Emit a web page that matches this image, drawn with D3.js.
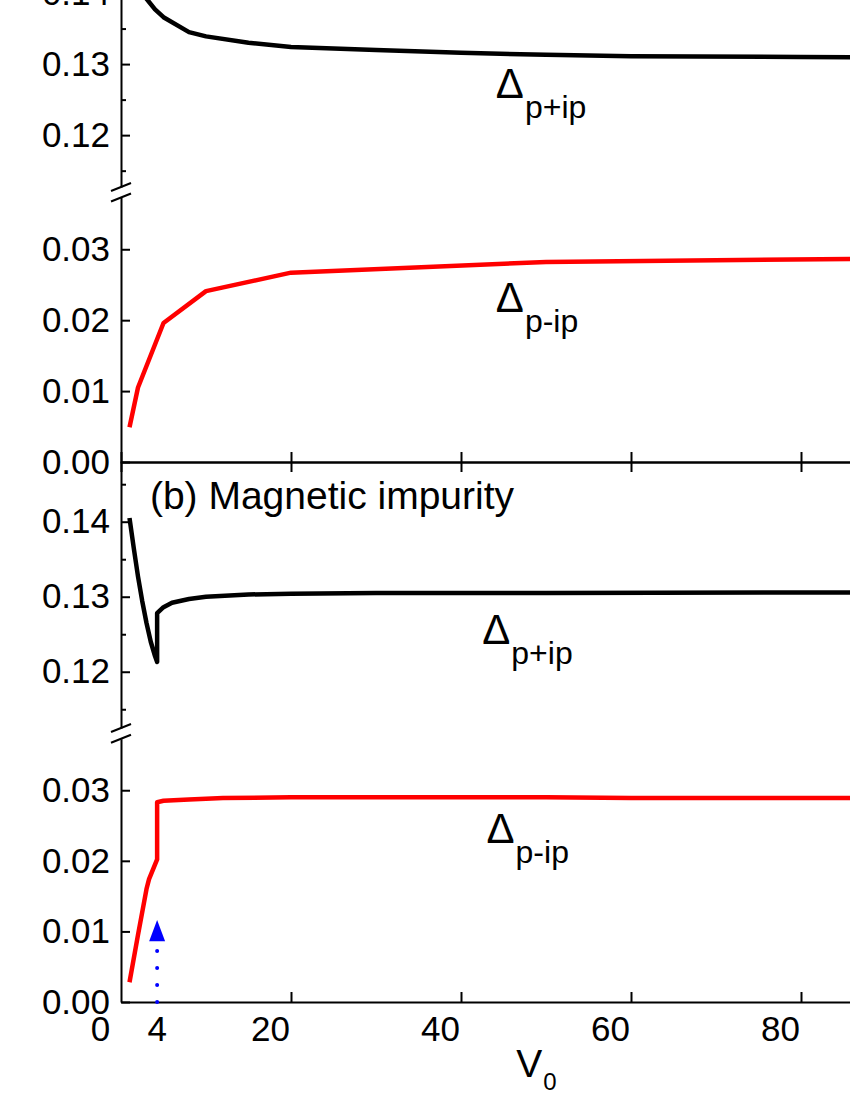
<!DOCTYPE html>
<html>
<head>
<meta charset="utf-8">
<script src="https://cdn.jsdelivr.net/npm/d3@7"></script>
<style>
  body { margin: 0; background: #fff; }
  svg { display: block; font-family: "Liberation Sans", Arial, sans-serif; }
</style>
</head>
<body>
<div id="viz"></div>
<script>
// panel (a): V0 values and gaps
var vA_plus  = [1, 2, 3, 4, 5, 8, 10, 15, 20, 30, 40, 50, 60, 80, 100];
var dA_plus  = [0.1480, 0.1425, 0.1392, 0.1377, 0.1366, 0.1345, 0.1339, 0.1330, 0.1324, 0.1320, 0.1316, 0.1313, 0.1311, 0.1310, 0.1309];
var vA_minus = [1, 2, 5, 10, 20, 50, 100];
var dA_minus = [0.0049, 0.0105, 0.0196, 0.0241, 0.0267, 0.0282, 0.0288];

// panel (b): magnetic impurity
var vB_plus  = [1, 1.5, 2, 2.5, 3, 3.5, 4, 4.25, 4.25, 5, 6, 8, 10, 15, 20, 30, 50, 100];
var dB_plus  = [0.1405, 0.1365, 0.1327, 0.1294, 0.1265, 0.1240, 0.1221, 0.1213, 0.1278, 0.1286, 0.1292, 0.1297, 0.1300, 0.1303, 0.1304, 0.1305, 0.1305, 0.1306];
var vB_minus = [1, 2, 3, 3.3, 4.25, 4.25, 5, 8, 12, 20, 40, 50, 60, 100];
var dB_minus = [0.0028, 0.0095, 0.0160, 0.0174, 0.0202, 0.0283, 0.0285, 0.0287, 0.0289, 0.0290, 0.0290, 0.0290, 0.0289, 0.0289];

// arrow marking the transition
var arrowV = 4.25, arrowFrom = 0, arrowTo = 0.0116;

var xTicks = [0, 20, 40, 60, 80, 100];
var xLabels = [0, 20, 40, 60, 80];
var yUpMajor = [0.12, 0.13, 0.14], yUpMinor = [0.115, 0.125, 0.135, 0.145];
var yLoMajor = [0, 0.01, 0.02, 0.03];

var width = 850, height = 1100;

var svg = d3.select('#viz').append('svg')
  .attr('width', width)
  .attr('height', height);

svg.append('rect').attr('width', width).attr('height', height).attr('fill', '#fff');

var x = d3.scaleLinear().domain([0, 100]).range([121, 971]);

// each panel has a broken y axis: upper part and lower part
var panels = [
  {
    yUp: d3.scaleLinear().domain([0.1127, 0.15]).range([187, -78]),
    yLo: d3.scaleLinear().domain([0, 0.0373]).range([462, 197.5]),
    plus: [vA_plus, dA_plus], minus: [vA_minus, dA_minus],
    labPlus: [44.1, 0.12521], labMinus: [44.1, 0.02116]
  },
  {
    yUp: d3.scaleLinear().domain([0.1125, 0.148]).range([728, 461.7]),
    yLo: d3.scaleLinear().domain([0, 0.0373]).range([1002, 738.7]),
    plus: [vB_plus, dB_plus], minus: [vB_minus, dB_minus],
    labPlus: [42.5, 0.1237], labMinus: [43.0, 0.02252]
  }
];

function styleAxis(g) {
  g.selectAll('path, line').attr('stroke', '#000').attr('stroke-width', 2);
  g.selectAll('text').attr('fill', '#000').attr('font-size', 35)
    .attr('font-family', '"Liberation Sans", Arial, sans-serif');
}

panels.forEach(function(p) {
  [p.yUp, p.yLo].forEach(function(y, k) {
    var major = k === 0 ? yUpMajor : yLoMajor;
    var gMaj = svg.append('g')
      .attr('transform', 'translate(' + x(0) + ',0)')
      .call(d3.axisLeft(y).tickValues(major).tickSizeInner(-9).tickSizeOuter(0)
        .tickPadding(11).tickFormat(d3.format('.2f')));
    styleAxis(gMaj);
    if (k === 0) {
      var gMin = svg.append('g')
        .attr('transform', 'translate(' + x(0) + ',0)')
        .call(d3.axisLeft(y).tickValues(yUpMinor).tickSizeInner(-5).tickSizeOuter(0).tickFormat(''));
      gMin.select('.domain').remove();
      styleAxis(gMin);
    }
  });

  // break marks
  [p.yUp.range()[0], p.yLo.range()[1]].forEach(function(yy) {
    svg.append('line')
      .attr('x1', x(0) - 10).attr('y1', yy + 4)
      .attr('x2', x(0) + 10).attr('y2', yy - 4)
      .attr('stroke', '#000').attr('stroke-width', 2);
  });

  var linePlus = d3.line()
    .x(function(d) { return x(d[0]); })
    .y(function(d) { return p.yUp(d[1]); });
  var lineMinus = d3.line()
    .x(function(d) { return x(d[0]); })
    .y(function(d) { return p.yLo(d[1]); });

  svg.append('path')
    .datum(d3.zip(p.plus[0], p.plus[1]))
    .attr('d', linePlus)
    .attr('fill', 'none').attr('stroke', '#000').attr('stroke-width', 4.5)
    .attr('stroke-linejoin', 'round');

  svg.append('path')
    .datum(d3.zip(p.minus[0], p.minus[1]))
    .attr('d', lineMinus)
    .attr('fill', 'none').attr('stroke', '#ff0000').attr('stroke-width', 4.5)
    .attr('stroke-linejoin', 'round');

  // delta labels
  [[p.labPlus, p.yUp, 'p+ip'], [p.labMinus, p.yLo, 'p-ip']].forEach(function(l) {
    var t = svg.append('text')
      .attr('x', x(l[0][0]))
      .attr('y', l[1](l[0][1]))
      .attr('fill', '#000');
    t.append('tspan').attr('font-size', 42).text('\u0394');
    t.append('tspan').attr('font-size', 32).attr('dy', 20).attr('dx', 1).text(l[2]);
  });
});

// middle x axis (ticks cross the line)
var gMidB = svg.append('g').attr('transform', 'translate(0,462)')
  .call(d3.axisBottom(x).tickValues(xTicks.slice(1)).tickSize(10).tickFormat(''));
var gMidT = svg.append('g').attr('transform', 'translate(0,462)')
  .call(d3.axisTop(x).tickValues(xTicks.slice(1)).tickSize(10).tickFormat(''));
styleAxis(gMidB); styleAxis(gMidT);

// bottom x axis
var gBot = svg.append('g').attr('transform', 'translate(0,1002)')
  .call(d3.axisBottom(x).tickValues(xTicks).tickSizeInner(-10).tickSizeOuter(0).tickPadding(14)
    .tickFormat(function(d) { return xLabels.indexOf(d) >= 0 ? d : ''; }));
styleAxis(gBot);
gBot.selectAll('.tick text').attr('dx', -21);
gBot.selectAll('.tick').filter(function(d) { return d === 0; }).select('line').remove();

svg.append('text')
  .attr('x', x(arrowV)).attr('y', 1041)
  .attr('text-anchor', 'middle').attr('font-size', 35).attr('fill', '#000')
  .text('4');

// x label V0
var xl = svg.append('text').attr('x', x(46.5)).attr('y', 1077).attr('fill', '#000');
xl.append('tspan').attr('font-size', 39).text('V');
xl.append('tspan').attr('font-size', 24).attr('dy', 13).attr('dx', 1).text('0');

// panel b title
svg.append('text')
  .attr('x', x(3.4)).attr('y', panels[1].yUp(0.1417))
  .attr('font-size', 39).attr('fill', '#000')
  .text('(b) Magnetic impurity');

// blue arrow
var yB = panels[1].yLo;
svg.append('line')
  .attr('x1', x(arrowV)).attr('x2', x(arrowV))
  .attr('y1', yB(arrowFrom)).attr('y2', yB(0.0073))
  .attr('stroke', '#0000ff').attr('stroke-width', 4)
  .attr('stroke-linecap', 'round').attr('stroke-dasharray', '0 17');
var tipY = yB(arrowTo), baseY = yB(0.0086), ax = x(arrowV);
svg.append('path')
  .attr('d', 'M' + ax + ',' + tipY + 'L' + (ax + 8) + ',' + baseY + 'L' + (ax - 8) + ',' + baseY + 'Z')
  .attr('fill', '#0000ff');
</script>
</body>
</html>
